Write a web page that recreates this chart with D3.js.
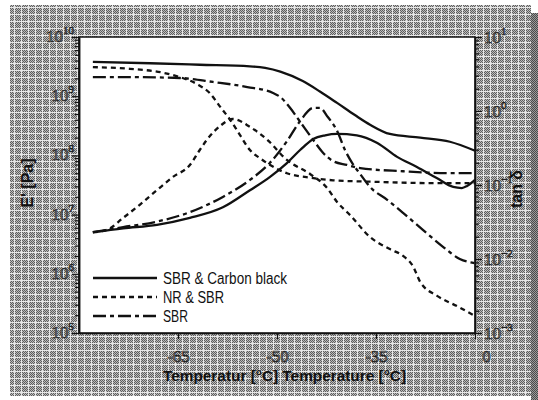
<!DOCTYPE html>
<html><head><meta charset="utf-8">
<script src="https://cdn.jsdelivr.net/npm/d3@7"></script>
<style>body{margin:0;background:#fff}svg{display:block}</style>
</head><body>
<svg id="c" width="538" height="400"></svg>
<script>
// ---------- data ----------
const seriesNames = ["SBR & Carbon black", "NR & SBR", "SBR"];

// Temperature [°C], E' [Pa]
const sbrCarbonE = [[-77.9,3.8e9],[-69.2,3.6e9],[-61.7,3.4e9],[-54.1,3.2e9],[-51.8,3.0e9],[-49.5,2.6e9],[-46.1,1.8e9],[-43.5,1.2e9],[-40.9,7.7e8],[-38.2,4.8e8],[-35.9,3.3e8],[-32.9,2.3e8],[-28.3,2.0e8],[-23.8,1.7e8],[-20,1.2e8]];
const nrSbrE = [[-77.9,3.1e9],[-72.3,2.9e9],[-67.3,2.5e9],[-64.7,2.1e9],[-62.1,1.6e9],[-60.2,1.13e9],[-58.6,6.6e8],[-57.1,4.0e8],[-55.6,2.2e8],[-54.1,1.23e8],[-52.6,9.0e7],[-51.5,7.4e7],[-48.5,5.0e7],[-45.0,4.2e7],[-41.5,3.8e7],[-35.9,3.6e7],[-25.8,3.4e7],[-20,3.4e7]];
const sbrE = [[-77.9,2.1e9],[-72.3,2.1e9],[-64.7,2.03e9],[-59.7,1.74e9],[-54.5,1.43e9],[-50.6,1.13e9],[-49.5,9.7e8],[-48.0,6.3e8],[-46.5,3.7e8],[-44.5,1.82e8],[-43.0,1.1e8],[-41.5,8.0e7],[-39.4,6.9e7],[-37.4,6.1e7],[-30.9,5.4e7],[-23.8,5.0e7],[-20,5.0e7]];

// Temperature [°C], tan δ
const sbrCarbonTan = [[-77.9,0.023],[-73.3,0.026],[-68.2,0.029],[-63.2,0.036],[-58.2,0.050],[-54.1,0.085],[-51.1,0.128],[-48.5,0.198],[-46.5,0.297],[-44.5,0.42],[-42.7,0.47],[-40.9,0.49],[-37.9,0.47],[-34.8,0.37],[-31.8,0.24],[-28.8,0.175],[-25.8,0.124],[-23.3,0.094],[-22.0,0.091],[-21.2,0.097],[-20,0.117]];
const nrSbrTan = [[-77.9,0.023],[-75.8,0.0247],[-73.3,0.036],[-70.8,0.054],[-68.2,0.085],[-65.8,0.128],[-63.2,0.186],[-61.7,0.297],[-60.6,0.41],[-58.6,0.63],[-56.7,0.78],[-54.1,0.61],[-51.5,0.41],[-48.5,0.218],[-45.0,0.141],[-42.4,0.091],[-40.9,0.059],[-38.9,0.039],[-35.9,0.0198],[-32.9,0.0136],[-30.9,0.011],[-29.4,0.008],[-28.3,0.0049],[-25.8,0.0032],[-22.7,0.0023],[-20,0.0017]];
const sbrTan = [[-77.9,0.023],[-73.3,0.027],[-68.2,0.032],[-63.2,0.043],[-58.2,0.069],[-54.1,0.117],[-51.1,0.198],[-48.5,0.39],[-46.5,0.73],[-44.5,1.10],[-43.5,1.10],[-42.3,0.83],[-40.9,0.54],[-39.7,0.297],[-38.6,0.198],[-37.4,0.141],[-35.9,0.094],[-33.3,0.063],[-30.9,0.042],[-27.9,0.0247],[-24.8,0.0145],[-22.3,0.0100],[-20,0.0088]];

const xTickValues = [-65, -50, -35, -20];
const xTickLabels = ["-65", "-50", "-35", "0"];
const leftTicks = [1e5, 1e6, 1e7, 1e8, 1e9, 1e10];
const rightTicks = [1e-3, 1e-2, 1e-1, 1e0, 1e1];

// ---------- layout ----------
const svg = d3.select("#c");
const L = 79, R = 475, T = 37, B = 333;
const x = d3.scaleLinear().domain([-80, -20]).range([L, R]);
const yL = d3.scaleLog().domain([1e5, 1e10]).range([B, T]);
const yR = d3.scaleLog().domain([1e-3, 1e1]).range([B, T]);

// halftone background
const defs = svg.append("defs");
const chk = defs.append("pattern").attr("id","chk").attr("width",2).attr("height",2).attr("patternUnits","userSpaceOnUse");
chk.append("rect").attr("width",2).attr("height",2).attr("fill","#bdbdbd");
chk.append("rect").attr("width",1).attr("height",1).attr("fill","#5e5e5e");
chk.append("rect").attr("x",1).attr("y",1).attr("width",1).attr("height",1).attr("fill","#5e5e5e");
const chkD = defs.append("pattern").attr("id","chkD").attr("width",2).attr("height",2).attr("patternUnits","userSpaceOnUse");
chkD.append("rect").attr("width",2).attr("height",2).attr("fill","#9a9a9a");
chkD.append("rect").attr("width",1).attr("height",1).attr("fill","#4a4a4a");
chkD.append("rect").attr("x",1).attr("y",1).attr("width",1).attr("height",1).attr("fill","#4a4a4a");
const grid = defs.append("pattern").attr("id","grid").attr("width",7).attr("height",7).attr("patternUnits","userSpaceOnUse");
grid.append("rect").attr("width",7).attr("height",1).attr("fill","#e8e8e8");
grid.append("rect").attr("width",1).attr("height",7).attr("fill","#e8e8e8");

svg.append("rect").attr("x",10).attr("y",5).attr("width",521).attr("height",391).attr("fill","url(#chk)");
svg.append("rect").attr("x",10).attr("y",5).attr("width",521).attr("height",391).attr("fill","url(#grid)");
svg.append("rect").attr("x",531).attr("y",13).attr("width",7).attr("height",387).attr("fill","url(#chkD)");

// plot area
svg.append("rect").attr("x",L).attr("y",T).attr("width",R-L).attr("height",B-T)
  .attr("fill","#fff").attr("stroke","#111").attr("stroke-width",1.5);

// ---------- axes ----------
function minorTicks(domain) {
  const out = [];
  const e0 = Math.round(Math.log10(domain[0])), e1 = Math.round(Math.log10(domain[1]));
  for (let e = e0; e < e1; e++) for (let m = 2; m <= 9; m++) out.push(m * Math.pow(10, e));
  return out;
}
function styleAxis(g) {
  g.select(".domain").attr("stroke","#111").attr("stroke-width",1.5);
  g.selectAll(".tick line").attr("stroke","#111").attr("stroke-width",1.2);
}
const tickFont = "'Liberation Serif','DejaVu Serif',serif";

// left
svg.append("g").attr("transform",`translate(${L},0)`)
  .call(d3.axisLeft(yL).tickValues(minorTicks(yL.domain())).tickSize(4).tickSizeOuter(0).tickFormat(""))
  .call(styleAxis);
svg.append("g").attr("transform",`translate(${L},0)`)
  .call(d3.axisLeft(yL).tickValues(leftTicks).tickSize(7).tickSizeOuter(0).tickFormat(""))
  .call(styleAxis);
// right
svg.append("g").attr("transform",`translate(${R},0)`)
  .call(d3.axisRight(yR).tickValues(minorTicks(yR.domain())).tickSize(4).tickSizeOuter(0).tickFormat(""))
  .call(styleAxis);
svg.append("g").attr("transform",`translate(${R},0)`)
  .call(d3.axisRight(yR).tickValues(rightTicks).tickSize(7).tickSizeOuter(0).tickFormat(""))
  .call(styleAxis);

function powLabel(g, v, xPos, yPos, anchor) {
  const e = Math.round(Math.log10(v));
  const t = g.append("text").attr("x", xPos).attr("y", yPos).attr("text-anchor", anchor)
    .attr("font-family", tickFont).attr("font-size", 17)
    .attr("fill", "#7a7a7a").attr("stroke", "#1a1a1a").attr("stroke-width", 0.6);
  t.append("tspan").text("10");
  t.append("tspan").attr("dy", -8).attr("font-size", 11).text(e < 0 ? "\u2212" + (-e) : String(e));
}
const lab = svg.append("g");
leftTicks.forEach(v => powLabel(lab, v, L - 5, yL(v) + 5, "end"));
rightTicks.forEach(v => powLabel(lab, v, R + 9, yR(v) + 6, "start"));

// bottom
const xg = svg.append("g").attr("transform",`translate(0,${B})`)
  .call(d3.axisBottom(x).tickValues(xTickValues).tickSize(6).tickSizeOuter(0).tickPadding(11)
        .tickFormat((d, i) => xTickLabels[i]))
  .call(styleAxis);
xg.selectAll(".tick text").attr("font-family", tickFont).attr("font-size", 17)
  .attr("fill", "#7a7a7a").attr("stroke", "#1a1a1a").attr("stroke-width", 0.6)
  .attr("dx", (d, i) => i === xTickValues.length - 1 ? 11 : 0);

// ---------- curves ----------
const lineE = d3.line().x(d => x(d[0])).y(d => yL(d[1])).curve(d3.curveMonotoneX);
const lineT = d3.line().x(d => x(d[0])).y(d => yR(d[1])).curve(d3.curveMonotoneX);
const dashes = [null, "5,4", "13,4,4,4"];
const curves = [
  [lineE, sbrCarbonE, 0], [lineT, sbrCarbonTan, 0],
  [lineE, nrSbrE, 1], [lineT, nrSbrTan, 1],
  [lineE, sbrE, 2], [lineT, sbrTan, 2]
];
const cg = svg.append("g");
curves.forEach(([fn, data, s]) => {
  cg.append("path").attr("d", fn(data)).attr("fill", "none")
    .attr("stroke", "#111").attr("stroke-width", 2.3)
    .attr("stroke-dasharray", dashes[s]);
});

// ---------- legend ----------
const legY = [278, 297, 316];
const legW = [124, 61, 25];
const lg = svg.append("g");
seriesNames.forEach((n, i) => {
  lg.append("line").attr("x1", 93).attr("x2", 157).attr("y1", legY[i]).attr("y2", legY[i])
    .attr("stroke", "#111").attr("stroke-width", 2.3).attr("stroke-dasharray", dashes[i]);
  lg.append("text").attr("x", 163).attr("y", legY[i] + 6)
    .attr("font-family", "'Liberation Sans Narrow','Liberation Sans',Arial,sans-serif")
    .attr("font-size", 16).attr("fill", "#111")
    .attr("textLength", legW[i]).attr("lengthAdjust", "spacingAndGlyphs").text(n);
});

// ---------- titles ----------
const sans = "'Liberation Sans',Arial,sans-serif";
svg.append("text").attr("transform", "translate(33,183) rotate(-90)").attr("text-anchor", "middle")
  .attr("font-family", sans).attr("font-weight", "bold").attr("font-size", 16).attr("fill", "#111")
  .text("E' [Pa]");
svg.append("text").attr("transform", "translate(522,189) rotate(-90)").attr("text-anchor", "middle")
  .attr("font-family", sans).attr("font-weight", "bold").attr("font-size", 16).attr("fill", "#111")
  .text("tan δ");
svg.append("text").attr("x", 163).attr("y", 381)
  .attr("font-family", sans).attr("font-weight", "bold").attr("font-size", 15).attr("fill", "#111")
  .attr("textLength", 243).attr("lengthAdjust", "spacingAndGlyphs")
  .text("Temperatur [°C]  Temperature [°C]");
</script>
</body></html>
